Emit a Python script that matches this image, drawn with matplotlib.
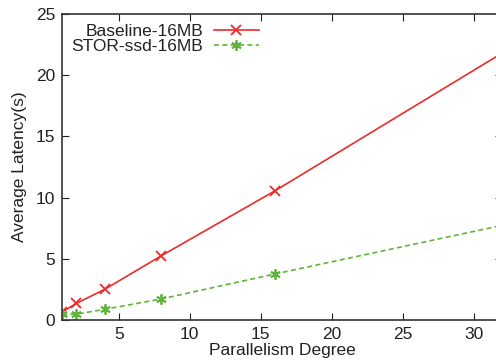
import matplotlib
matplotlib.use("Agg")
import matplotlib.pyplot as plt

parallelism = [1, 2, 4, 8, 16, 32]
baseline = [0.65, 1.35, 2.5, 5.25, 10.55, 21.8]
stor_ssd = [0.5, 0.48, 0.87, 1.72, 3.76, 7.73]
x_ticks = [5, 10, 15, 20, 25, 30]
y_ticks = [0, 5, 10, 15, 20, 25]

plt.rcParams['font.family'] = ['Liberation Sans', 'DejaVu Sans']

W, H = 496, 364
fig = plt.figure(figsize=(W/100, H/100), dpi=100)
left, right, top, bottom = 62, 502, 14, 320
ax = fig.add_axes([left/W, 1-bottom/H, (right-left)/W, (bottom-top)/H])

red = '#ee2a2a'
green = '#5db53a'
ax.plot(parallelism, baseline, color=red, lw=1.2, marker='x', ms=7.5, mew=1.3,
        label='Baseline-16MB')
ax.plot(parallelism, stor_ssd, color=green, lw=1.2, ls=(0, (3, 2)), marker=(6, 2, 0), ms=7.5, mew=1.3,
        label='STOR-ssd-16MB')

ax.set_xlim(1, 32)
ax.set_ylim(0, 25)
ax.set_xticks(x_ticks)
ax.set_yticks(y_ticks)
ax.tick_params(direction='in', length=5, labelsize=12.5, colors='#222222', top=True, right=True, pad=5)
for s in ax.spines.values():
    s.set_linewidth(1.2)
    s.set_color('#333333')
ax.set_xlabel('Parallelism Degree', fontsize=12.5, labelpad=1, color='#222222')
ax.set_ylabel('Average Latency(s)', fontsize=12.5, labelpad=6, color='#222222')

leg = ax.legend(loc='upper left', bbox_to_anchor=(0.0, 1.0), frameon=False, fontsize=12.5,
                markerfirst=False, handlelength=2.6, handletextpad=0.6, labelspacing=0.0,
                borderaxespad=0.15)
for t in leg.get_texts():
    t.set_color('#222222')
    t.set_ha('right')

fig.savefig('out.png', dpi=100)
